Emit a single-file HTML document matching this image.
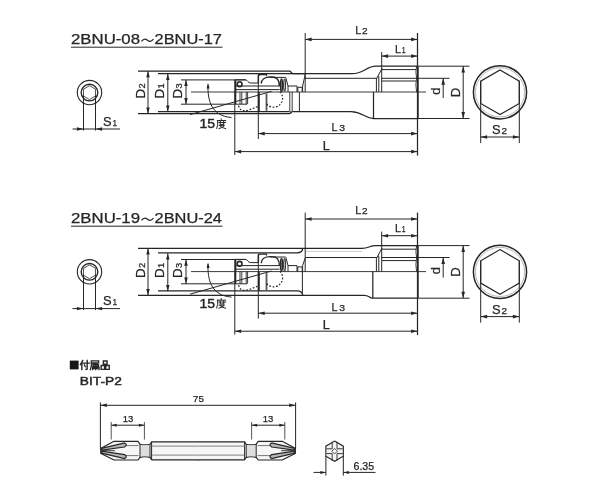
<!DOCTYPE html>
<html><head><meta charset="utf-8"><title>2BNU</title>
<style>
html,body{margin:0;padding:0;background:#fff;}
body{width:600px;height:500px;overflow:hidden;font-family:"Liberation Sans",sans-serif;}
svg{display:block;filter:grayscale(1);}
svg text{font-family:"Liberation Sans",sans-serif;fill:#262626;stroke:#262626;stroke-width:0.25px;}
</style></head><body>
<svg width="600" height="500" viewBox="0 0 600 500">
<rect width="600" height="500" fill="#ffffff"/>
<text x="71.00" y="44.40" font-size="14.2" text-anchor="start" font-weight="normal" textLength="69.00" lengthAdjust="spacingAndGlyphs" >2BNU-08</text>
<path d="M141.5,41.4 C144.0,37.99999999999999 146.0,38.99999999999999 147.5,40.199999999999996 C149.0,41.4 151.0,42.4 153.5,38.99999999999999" stroke="#262626" stroke-width="1.25" fill="none" />
<text x="154.50" y="44.40" font-size="14.2" text-anchor="start" font-weight="normal" textLength="67.50" lengthAdjust="spacingAndGlyphs" >2BNU-17</text>
<line x1="71.00" y1="47.20" x2="222.50" y2="47.20" stroke="#262626" stroke-width="1" />
<circle cx="89.5" cy="92.6" r="12.2" fill="none" stroke="#262626" stroke-width="1.1"/>
<circle cx="89.5" cy="92.6" r="8.3" fill="none" stroke="#262626" stroke-width="1.4"/>
<polygon points="89.50,85.70 95.48,89.15 95.48,96.05 89.50,99.50 83.52,96.05 83.52,89.15" fill="none" stroke="#262626" stroke-width="0.8"/>
<line x1="83.50" y1="95.60" x2="83.50" y2="130.50" stroke="#262626" stroke-width="1" />
<line x1="95.50" y1="95.60" x2="95.50" y2="130.50" stroke="#262626" stroke-width="1" />
<line x1="72.50" y1="129.00" x2="120.00" y2="129.00" stroke="#262626" stroke-width="1" />
<polygon points="83.50,129.00 76.90,127.30 76.90,130.70" fill="#262626"/>
<polygon points="95.50,129.00 102.10,127.30 102.10,130.70" fill="#262626"/>
<g transform="translate(103.00 125.60)"><text x="0" y="0" font-size="12.4" textLength="8.60" lengthAdjust="spacingAndGlyphs">S</text><text x="9.40" y="0" font-size="9.4" textLength="4.60" lengthAdjust="spacingAndGlyphs">1</text></g>
<path d="M138,71.0 L290,71.0 L292.6,73.7" stroke="#262626" stroke-width="1.25" fill="none" />
<path d="M138,113.7 L289,113.7 Q291.5,113.7 291.5,111.6" stroke="#262626" stroke-width="1.25" fill="none" />
<line x1="158.00" y1="73.70" x2="305.00" y2="73.70" stroke="#262626" stroke-width="1.25" />
<line x1="158.00" y1="111.60" x2="289.50" y2="111.60" stroke="#262626" stroke-width="1.25" />
<line x1="181.00" y1="79.90" x2="246.00" y2="79.90" stroke="#262626" stroke-width="1" />
<line x1="181.00" y1="104.20" x2="247.20" y2="104.20" stroke="#262626" stroke-width="1" />
<line x1="191.00" y1="92.00" x2="426.00" y2="92.00" stroke="#262626" stroke-width="0.9" />
<line x1="148.00" y1="71.00" x2="148.00" y2="113.70" stroke="#262626" stroke-width="1" />
<polygon points="148.00,71.00 146.25,77.20 149.75,77.20" fill="#262626"/>
<polygon points="148.00,113.70 146.25,107.50 149.75,107.50" fill="#262626"/>
<line x1="167.80" y1="73.70" x2="167.80" y2="111.60" stroke="#262626" stroke-width="1" />
<polygon points="167.80,73.70 166.05,79.90 169.55,79.90" fill="#262626"/>
<polygon points="167.80,111.60 166.05,105.40 169.55,105.40" fill="#262626"/>
<line x1="186.00" y1="79.90" x2="186.00" y2="104.20" stroke="#262626" stroke-width="1" />
<polygon points="186.00,79.90 184.25,86.10 187.75,86.10" fill="#262626"/>
<polygon points="186.00,104.20 184.25,98.00 187.75,98.00" fill="#262626"/>
<g transform="translate(144.60 98.50) rotate(-90)"><text x="0" y="0" font-size="12.6" textLength="9.60" lengthAdjust="spacingAndGlyphs">D</text><text x="10.00" y="0" font-size="9.6" textLength="5.20" lengthAdjust="spacingAndGlyphs">2</text></g>
<g transform="translate(164.40 98.50) rotate(-90)"><text x="0" y="0" font-size="12.6" textLength="9.60" lengthAdjust="spacingAndGlyphs">D</text><text x="10.00" y="0" font-size="9.6" textLength="5.20" lengthAdjust="spacingAndGlyphs">1</text></g>
<g transform="translate(182.20 98.50) rotate(-90)"><text x="0" y="0" font-size="12.6" textLength="9.60" lengthAdjust="spacingAndGlyphs">D</text><text x="10.00" y="0" font-size="9.6" textLength="5.20" lengthAdjust="spacingAndGlyphs">3</text></g>
<line x1="190.00" y1="114.60" x2="271.50" y2="91.40" stroke="#262626" stroke-width="1" />
<path d="M208,84.5 C207.5,100 211,116 231.5,117.5" stroke="#262626" stroke-width="1" fill="none" />
<polygon points="208,83.00 206.6,88.50 209.6,88.50" fill="#262626"/>
<text x="199.40" y="128.00" font-size="12.4" text-anchor="start" font-weight="normal" textLength="15.60" lengthAdjust="spacingAndGlyphs" style="stroke-width:0.4px">15</text>
<path d="M221.20,119.00 L221.20,120.25 M217.36,120.54 L225.62,120.54 M217.65,120.54 L217.65,124.76 L216.69,128.41 M218.90,122.46 L225.62,122.46 M220.24,121.30 L220.24,124.38 M223.70,121.30 L223.70,124.38 M220.24,124.38 L223.70,124.38 M219.28,125.62 L224.46,125.62 L222.16,127.45 L218.90,128.60 M220.43,126.30 L222.16,127.45 L225.62,128.60 " stroke="#262626" stroke-width="1.0" fill="none" stroke-linecap="square" stroke-linejoin="miter"/>
<line x1="234.80" y1="80.00" x2="234.80" y2="155.00" stroke="#262626" stroke-width="1" />
<line x1="258.30" y1="74.00" x2="258.30" y2="139.00" stroke="#262626" stroke-width="1" />
<circle cx="239.6" cy="84.2" r="2.4" fill="#fff" stroke="#262626" stroke-width="1.6"/>
<path d="M234.8,79.8 L245.5,79.8 C247.5,79.8 248,83 250.5,83 L258.5,83" stroke="#262626" stroke-width="1" fill="none" />
<path d="M258.4,83 L258.4,76.4 Q258.4,74.5 260.4,74.5 L266.2,74.5 L266.8,75.8" stroke="#262626" stroke-width="1.4" fill="none" />
<path d="M261.3,83.6 C261.3,79.5 265,77 270,77 L272,77 C277,77 279.4,80 279.4,86" stroke="#262626" stroke-width="1.4" fill="none" />
<line x1="270.00" y1="77.40" x2="285.60" y2="77.40" stroke="#262626" stroke-width="1" />
<line x1="235.00" y1="86.00" x2="279.60" y2="86.00" stroke="#262626" stroke-width="1" />
<line x1="235.00" y1="89.60" x2="279.60" y2="89.60" stroke="#262626" stroke-width="1" />
<ellipse cx="281.5" cy="85.2" rx="1.1" ry="6.4" fill="#777" stroke="#262626" stroke-width="1.3"/>
<ellipse cx="284.6" cy="85.2" rx="1.0" ry="6.4" fill="#ccc" stroke="#262626" stroke-width="1.0"/>
<line x1="285.80" y1="77.60" x2="288.00" y2="86.00" stroke="#262626" stroke-width="1" />
<path d="M288,92 L288,86 L297,86 L297,92" stroke="#262626" stroke-width="1" fill="none" />
<path d="M297.8,92 L297.8,87.3 L302.2,87.3 L302.2,92" stroke="#262626" stroke-width="1" fill="none" />
<path d="M235.2,92 L235.2,104 M247.6,92 L247.6,104 M246.2,92 L246.2,104 M240,92 L240,104 M241.8,92 L241.8,104" stroke="#262626" stroke-width="0.9" fill="none" />
<line x1="235.60" y1="80.00" x2="235.60" y2="104.00" stroke="#262626" stroke-width="1.4" />
<line x1="258.80" y1="92.00" x2="258.80" y2="111.00" stroke="#262626" stroke-width="2" />
<line x1="266.50" y1="93.50" x2="266.50" y2="110.80" stroke="#555" stroke-width="1.8" />
<path d="M279.96,91.84 A9,9 0 1 1 265.81,102.70" stroke="#262626" stroke-width="1.2" fill="none" stroke-dasharray="1.7 1.7"/>
<path d="M238.6,105.6 C240,112 246,111.5 252,108.8 L258,106.4" stroke="#262626" stroke-width="1.2" fill="none" stroke-dasharray="1.7 1.7"/>
<path d="M289.8,92 L289.8,111.4 Q291,113.4 292.2,111.4 L292.2,92" stroke="#262626" stroke-width="0.9" fill="none" />
<line x1="299.40" y1="92.00" x2="299.40" y2="111.40" stroke="#262626" stroke-width="1" />
<path d="M292.6,73.7 L352,73.7 C364,73.7 366,66.2 376,66.2 L417.5,66.2" stroke="#262626" stroke-width="1.25" fill="none" />
<path d="M292.2,111.5 L351,111.5 C363,111.5 364,118.5 373.5,118.5 L417.5,118.5" stroke="#262626" stroke-width="1.25" fill="none" />
<line x1="305.00" y1="78.30" x2="377.00" y2="78.30" stroke="#262626" stroke-width="1" />
<path d="M305.4,73.7 L302.6,86 L302.6,92" stroke="#262626" stroke-width="1" fill="none" />
<line x1="373.50" y1="92.00" x2="373.50" y2="118.50" stroke="#262626" stroke-width="1.25" />
<line x1="382.00" y1="69.60" x2="416.00" y2="69.60" stroke="#262626" stroke-width="1" />
<line x1="382.00" y1="81.00" x2="416.00" y2="81.00" stroke="#262626" stroke-width="1" />
<path d="M382,68.4 L376.4,79 L376.4,92 M378.8,76 L378.8,92" stroke="#262626" stroke-width="1" fill="none" />
<line x1="417.50" y1="33.00" x2="417.50" y2="155.50" stroke="#262626" stroke-width="1.25" />
<path d="M416.6,66.2 Q415.2,72 416.6,78 Q415.2,85 416.6,92" stroke="#262626" stroke-width="0.9" fill="none" />
<line x1="417.90" y1="66.20" x2="417.90" y2="118.50" stroke="#262626" stroke-width="1.6" />
<line x1="305.20" y1="33.00" x2="305.20" y2="92.00" stroke="#262626" stroke-width="1" />
<line x1="305.20" y1="39.40" x2="417.50" y2="39.40" stroke="#262626" stroke-width="1" />
<polygon points="305.20,39.40 311.60,37.60 311.60,41.20" fill="#262626"/>
<polygon points="417.50,39.40 411.10,37.60 411.10,41.20" fill="#262626"/>
<g transform="translate(355.30 34.00)"><text x="0" y="0" font-size="11.8" textLength="6.00" lengthAdjust="spacingAndGlyphs">L</text><text x="6.80" y="0" font-size="8.6" textLength="5.60" lengthAdjust="spacingAndGlyphs">2</text></g>
<line x1="381.70" y1="52.00" x2="381.70" y2="92.00" stroke="#262626" stroke-width="1" />
<line x1="381.70" y1="56.10" x2="417.50" y2="56.10" stroke="#262626" stroke-width="1" />
<polygon points="381.70,56.10 388.10,54.30 388.10,57.90" fill="#262626"/>
<polygon points="417.50,56.10 411.10,54.30 411.10,57.90" fill="#262626"/>
<g transform="translate(395.00 52.80)"><text x="0" y="0" font-size="11.8" textLength="6.00" lengthAdjust="spacingAndGlyphs">L</text><text x="6.80" y="0" font-size="8.6" textLength="3.80" lengthAdjust="spacingAndGlyphs">1</text></g>
<line x1="258.30" y1="133.60" x2="417.50" y2="133.60" stroke="#262626" stroke-width="1" />
<polygon points="258.30,133.60 264.70,131.80 264.70,135.40" fill="#262626"/>
<polygon points="417.50,133.60 411.10,131.80 411.10,135.40" fill="#262626"/>
<g transform="translate(331.50 131.20)"><text x="0" y="0" font-size="11.8" textLength="6.00" lengthAdjust="spacingAndGlyphs">L</text><text x="7.70" y="0" font-size="8.6" textLength="5.80" lengthAdjust="spacingAndGlyphs">3</text></g>
<line x1="234.80" y1="151.60" x2="417.50" y2="151.60" stroke="#262626" stroke-width="1" />
<polygon points="234.80,151.60 241.20,149.80 241.20,153.40" fill="#262626"/>
<polygon points="417.50,151.60 411.10,149.80 411.10,153.40" fill="#262626"/>
<text x="322.70" y="149.50" font-size="12" text-anchor="start" font-weight="normal" textLength="7.00" lengthAdjust="spacingAndGlyphs" >L</text>
<line x1="417.50" y1="66.20" x2="469.50" y2="66.20" stroke="#262626" stroke-width="1" />
<line x1="417.50" y1="118.50" x2="469.50" y2="118.50" stroke="#262626" stroke-width="1" />
<line x1="463.20" y1="66.20" x2="463.20" y2="118.50" stroke="#262626" stroke-width="1" />
<polygon points="463.20,66.20 461.40,72.60 465.00,72.60" fill="#262626"/>
<polygon points="463.20,118.50 461.40,112.10 465.00,112.10" fill="#262626"/>
<text x="460.40" y="97.20" font-size="12.5" text-anchor="start" font-weight="normal" textLength="9.50" lengthAdjust="spacingAndGlyphs" transform="rotate(-90 460.40 97.20)" >D</text>
<line x1="381.00" y1="78.30" x2="449.50" y2="78.30" stroke="#262626" stroke-width="1" />
<line x1="443.20" y1="78.30" x2="443.20" y2="98.00" stroke="#262626" stroke-width="1" />
<polygon points="443.20,78.30 441.40,84.70 445.00,84.70" fill="#262626"/>
<text x="439.80" y="94.70" font-size="12.5" text-anchor="start" font-weight="normal" textLength="7.20" lengthAdjust="spacingAndGlyphs" transform="rotate(-90 439.80 94.70)" >d</text>
<circle cx="500" cy="92.3" r="26.6" fill="none" stroke="#262626" stroke-width="1.5"/>
<circle cx="500" cy="92.3" r="24.6" fill="none" stroke="#999" stroke-width="0.7"/>
<polygon points="500.00,70.00 519.31,81.15 519.31,103.45 500.00,114.60 480.69,103.45 480.69,81.15" fill="none" stroke="#262626" stroke-width="1.2"/>
<line x1="480.70" y1="81.30" x2="480.70" y2="143.00" stroke="#262626" stroke-width="1" />
<line x1="519.30" y1="81.30" x2="519.30" y2="143.00" stroke="#262626" stroke-width="1" />
<line x1="480.70" y1="137.00" x2="519.30" y2="137.00" stroke="#262626" stroke-width="1" />
<polygon points="480.70,137.00 487.10,135.20 487.10,138.80" fill="#262626"/>
<polygon points="519.30,137.00 512.90,135.20 512.90,138.80" fill="#262626"/>
<g transform="translate(492.00 134.20)"><text x="0" y="0" font-size="12" textLength="8.60" lengthAdjust="spacingAndGlyphs">S</text><text x="9.60" y="0" font-size="9" textLength="5.60" lengthAdjust="spacingAndGlyphs">2</text></g>
<text x="71.00" y="223.40" font-size="14.2" text-anchor="start" font-weight="normal" textLength="69.00" lengthAdjust="spacingAndGlyphs" >2BNU-19</text>
<path d="M141.5,220.4 C144.0,217.00000000000003 146.0,218.00000000000003 147.5,219.20000000000002 C149.0,220.4 151.0,221.4 153.5,218.00000000000003" stroke="#262626" stroke-width="1.25" fill="none" />
<text x="154.50" y="223.40" font-size="14.2" text-anchor="start" font-weight="normal" textLength="67.50" lengthAdjust="spacingAndGlyphs" >2BNU-24</text>
<line x1="71.00" y1="226.20" x2="222.50" y2="226.20" stroke="#262626" stroke-width="1" />
<circle cx="89.5" cy="271.8" r="12.2" fill="none" stroke="#262626" stroke-width="1.1"/>
<circle cx="89.5" cy="271.8" r="8.3" fill="none" stroke="#262626" stroke-width="1.4"/>
<polygon points="89.50,264.90 95.48,268.35 95.48,275.25 89.50,278.70 83.52,275.25 83.52,268.35" fill="none" stroke="#262626" stroke-width="0.8"/>
<line x1="83.50" y1="274.80" x2="83.50" y2="310.10" stroke="#262626" stroke-width="1" />
<line x1="95.50" y1="274.80" x2="95.50" y2="310.10" stroke="#262626" stroke-width="1" />
<line x1="72.50" y1="308.60" x2="120.00" y2="308.60" stroke="#262626" stroke-width="1" />
<polygon points="83.50,308.60 76.90,306.90 76.90,310.30" fill="#262626"/>
<polygon points="95.50,308.60 102.10,306.90 102.10,310.30" fill="#262626"/>
<g transform="translate(103.00 305.20)"><text x="0" y="0" font-size="12.4" textLength="8.60" lengthAdjust="spacingAndGlyphs">S</text><text x="9.40" y="0" font-size="9.4" textLength="4.60" lengthAdjust="spacingAndGlyphs">1</text></g>
<path d="M158,252.8 L297,252.8 Q302.2,252.8 302.8,248.39999999999998" stroke="#262626" stroke-width="1.25" fill="none" />
<path d="M158,290.8 L297,290.8 Q302.2,290.8 302.8,295.3" stroke="#262626" stroke-width="1.25" fill="none" />
<line x1="181.00" y1="259.50" x2="246.00" y2="259.50" stroke="#262626" stroke-width="1" />
<line x1="181.00" y1="283.80" x2="247.20" y2="283.80" stroke="#262626" stroke-width="1" />
<line x1="191.00" y1="271.60" x2="426.00" y2="271.60" stroke="#262626" stroke-width="0.9" />
<line x1="148.00" y1="248.40" x2="148.00" y2="295.30" stroke="#262626" stroke-width="1" />
<polygon points="148.00,248.40 146.25,254.60 149.75,254.60" fill="#262626"/>
<polygon points="148.00,295.30 146.25,289.10 149.75,289.10" fill="#262626"/>
<line x1="167.80" y1="253.30" x2="167.80" y2="291.20" stroke="#262626" stroke-width="1" />
<polygon points="167.80,253.30 166.05,259.50 169.55,259.50" fill="#262626"/>
<polygon points="167.80,291.20 166.05,285.00 169.55,285.00" fill="#262626"/>
<line x1="186.00" y1="259.50" x2="186.00" y2="283.80" stroke="#262626" stroke-width="1" />
<polygon points="186.00,259.50 184.25,265.70 187.75,265.70" fill="#262626"/>
<polygon points="186.00,283.80 184.25,277.60 187.75,277.60" fill="#262626"/>
<g transform="translate(144.60 278.10) rotate(-90)"><text x="0" y="0" font-size="12.6" textLength="9.60" lengthAdjust="spacingAndGlyphs">D</text><text x="10.00" y="0" font-size="9.6" textLength="5.20" lengthAdjust="spacingAndGlyphs">2</text></g>
<g transform="translate(164.40 278.10) rotate(-90)"><text x="0" y="0" font-size="12.6" textLength="9.60" lengthAdjust="spacingAndGlyphs">D</text><text x="10.00" y="0" font-size="9.6" textLength="5.20" lengthAdjust="spacingAndGlyphs">1</text></g>
<g transform="translate(182.20 278.10) rotate(-90)"><text x="0" y="0" font-size="12.6" textLength="9.60" lengthAdjust="spacingAndGlyphs">D</text><text x="10.00" y="0" font-size="9.6" textLength="5.20" lengthAdjust="spacingAndGlyphs">3</text></g>
<line x1="190.00" y1="294.20" x2="271.50" y2="271.00" stroke="#262626" stroke-width="1" />
<path d="M208,264.1 C207.5,279.6 211,295.6 231.5,297.1" stroke="#262626" stroke-width="1" fill="none" />
<polygon points="208,262.60 206.6,268.10 209.6,268.10" fill="#262626"/>
<text x="199.40" y="307.60" font-size="12.4" text-anchor="start" font-weight="normal" textLength="15.60" lengthAdjust="spacingAndGlyphs" style="stroke-width:0.4px">15</text>
<path d="M221.20,298.60 L221.20,299.85 M217.36,300.14 L225.62,300.14 M217.65,300.14 L217.65,304.36 L216.69,308.01 M218.90,302.06 L225.62,302.06 M220.24,300.90 L220.24,303.98 M223.70,300.90 L223.70,303.98 M220.24,303.98 L223.70,303.98 M219.28,305.22 L224.46,305.22 L222.16,307.05 L218.90,308.20 M220.43,305.90 L222.16,307.05 L225.62,308.20 " stroke="#262626" stroke-width="1.0" fill="none" stroke-linecap="square" stroke-linejoin="miter"/>
<line x1="234.80" y1="259.60" x2="234.80" y2="334.60" stroke="#262626" stroke-width="1" />
<line x1="258.30" y1="253.60" x2="258.30" y2="318.60" stroke="#262626" stroke-width="1" />
<circle cx="239.6" cy="263.8" r="2.4" fill="#fff" stroke="#262626" stroke-width="1.6"/>
<path d="M234.8,259.4 L245.5,259.4 C247.5,259.4 248,262.6 250.5,262.6 L258.5,262.6" stroke="#262626" stroke-width="1" fill="none" />
<path d="M258.4,262.6 L258.4,256.0 Q258.4,254.1 260.4,254.1 L266.2,254.1 L266.8,255.39999999999998" stroke="#262626" stroke-width="1.4" fill="none" />
<path d="M261.3,263.2 C261.3,259.1 265,256.6 270,256.6 L272,256.6 C277,256.6 279.4,259.6 279.4,265.6" stroke="#262626" stroke-width="1.4" fill="none" />
<line x1="270.00" y1="257.00" x2="285.60" y2="257.00" stroke="#262626" stroke-width="1" />
<line x1="235.00" y1="265.60" x2="279.60" y2="265.60" stroke="#262626" stroke-width="1" />
<line x1="235.00" y1="269.20" x2="279.60" y2="269.20" stroke="#262626" stroke-width="1" />
<ellipse cx="281.5" cy="264.8" rx="1.1" ry="6.4" fill="#777" stroke="#262626" stroke-width="1.3"/>
<ellipse cx="284.6" cy="264.8" rx="1.0" ry="6.4" fill="#ccc" stroke="#262626" stroke-width="1.0"/>
<line x1="285.80" y1="257.20" x2="288.00" y2="265.60" stroke="#262626" stroke-width="1" />
<path d="M288,271.6 L288,265.6 L297,265.6 L297,271.6" stroke="#262626" stroke-width="1" fill="none" />
<path d="M297.8,271.6 L297.8,266.9 L302.2,266.9 L302.2,271.6" stroke="#262626" stroke-width="1" fill="none" />
<path d="M235.2,271.6 L235.2,283.6 M247.6,271.6 L247.6,283.6 M246.2,271.6 L246.2,283.6 M240,271.6 L240,283.6 M241.8,271.6 L241.8,283.6" stroke="#262626" stroke-width="0.9" fill="none" />
<line x1="235.60" y1="259.60" x2="235.60" y2="283.60" stroke="#262626" stroke-width="1.4" />
<line x1="258.80" y1="271.60" x2="258.80" y2="290.60" stroke="#262626" stroke-width="2" />
<line x1="266.50" y1="273.10" x2="266.50" y2="290.40" stroke="#555" stroke-width="1.8" />
<path d="M279.96,271.44 A9,9 0 1 1 265.81,282.30" stroke="#262626" stroke-width="1.2" fill="none" stroke-dasharray="1.7 1.7"/>
<path d="M238.6,285.2 C240,291.6 246,291.1 252,288.4 L258,286.0" stroke="#262626" stroke-width="1.2" fill="none" stroke-dasharray="1.7 1.7"/>
<path d="M138,248.39999999999998 L362,248.39999999999998 C369,248.39999999999998 369,245.6 376,245.6 L417.5,245.6" stroke="#262626" stroke-width="1.25" fill="none" />
<path d="M138,295.3 L364,295.3 C370,295.3 368,298.2 373.5,298.2 L417.5,298.2" stroke="#262626" stroke-width="1.25" fill="none" />
<line x1="302.40" y1="271.60" x2="302.40" y2="293.10" stroke="#262626" stroke-width="1" />
<line x1="305.40" y1="257.50" x2="377.00" y2="257.50" stroke="#262626" stroke-width="1" />
<line x1="305.40" y1="251.40" x2="362.00" y2="251.40" stroke="#bbb" stroke-width="0.8" />
<path d="M305.4,257.5 L302.6,265.6 L302.6,271.6" stroke="#262626" stroke-width="1" fill="none" />
<line x1="372.80" y1="271.60" x2="372.80" y2="298.20" stroke="#262626" stroke-width="1.25" />
<line x1="382.00" y1="249.20" x2="416.00" y2="249.20" stroke="#262626" stroke-width="1" />
<line x1="382.00" y1="260.60" x2="416.00" y2="260.60" stroke="#262626" stroke-width="1" />
<path d="M382,248.0 L376.4,258.6 L376.4,271.6 M378.8,255.6 L378.8,271.6" stroke="#262626" stroke-width="1" fill="none" />
<line x1="417.50" y1="212.60" x2="417.50" y2="335.10" stroke="#262626" stroke-width="1.25" />
<path d="M416.6,245.6 Q415.2,251.6 416.6,257.6 Q415.2,264.6 416.6,271.6" stroke="#262626" stroke-width="0.9" fill="none" />
<line x1="417.90" y1="245.60" x2="417.90" y2="298.20" stroke="#262626" stroke-width="1.6" />
<line x1="305.20" y1="212.60" x2="305.20" y2="271.60" stroke="#262626" stroke-width="1" />
<line x1="305.20" y1="219.00" x2="417.50" y2="219.00" stroke="#262626" stroke-width="1" />
<polygon points="305.20,219.00 311.60,217.20 311.60,220.80" fill="#262626"/>
<polygon points="417.50,219.00 411.10,217.20 411.10,220.80" fill="#262626"/>
<g transform="translate(355.30 213.60)"><text x="0" y="0" font-size="11.8" textLength="6.00" lengthAdjust="spacingAndGlyphs">L</text><text x="6.80" y="0" font-size="8.6" textLength="5.60" lengthAdjust="spacingAndGlyphs">2</text></g>
<line x1="381.70" y1="231.60" x2="381.70" y2="271.60" stroke="#262626" stroke-width="1" />
<line x1="381.70" y1="235.70" x2="417.50" y2="235.70" stroke="#262626" stroke-width="1" />
<polygon points="381.70,235.70 388.10,233.90 388.10,237.50" fill="#262626"/>
<polygon points="417.50,235.70 411.10,233.90 411.10,237.50" fill="#262626"/>
<g transform="translate(395.00 232.40)"><text x="0" y="0" font-size="11.8" textLength="6.00" lengthAdjust="spacingAndGlyphs">L</text><text x="6.80" y="0" font-size="8.6" textLength="3.80" lengthAdjust="spacingAndGlyphs">1</text></g>
<line x1="258.30" y1="313.20" x2="417.50" y2="313.20" stroke="#262626" stroke-width="1" />
<polygon points="258.30,313.20 264.70,311.40 264.70,315.00" fill="#262626"/>
<polygon points="417.50,313.20 411.10,311.40 411.10,315.00" fill="#262626"/>
<g transform="translate(331.50 310.80)"><text x="0" y="0" font-size="11.8" textLength="6.00" lengthAdjust="spacingAndGlyphs">L</text><text x="7.70" y="0" font-size="8.6" textLength="5.80" lengthAdjust="spacingAndGlyphs">3</text></g>
<line x1="234.80" y1="331.20" x2="417.50" y2="331.20" stroke="#262626" stroke-width="1" />
<polygon points="234.80,331.20 241.20,329.40 241.20,333.00" fill="#262626"/>
<polygon points="417.50,331.20 411.10,329.40 411.10,333.00" fill="#262626"/>
<text x="322.70" y="329.10" font-size="12" text-anchor="start" font-weight="normal" textLength="7.00" lengthAdjust="spacingAndGlyphs" >L</text>
<line x1="417.50" y1="245.60" x2="469.50" y2="245.60" stroke="#262626" stroke-width="1" />
<line x1="417.50" y1="298.20" x2="469.50" y2="298.20" stroke="#262626" stroke-width="1" />
<line x1="463.20" y1="245.60" x2="463.20" y2="298.20" stroke="#262626" stroke-width="1" />
<polygon points="463.20,245.60 461.40,252.00 465.00,252.00" fill="#262626"/>
<polygon points="463.20,298.20 461.40,291.80 465.00,291.80" fill="#262626"/>
<text x="460.40" y="276.80" font-size="12.5" text-anchor="start" font-weight="normal" textLength="9.50" lengthAdjust="spacingAndGlyphs" transform="rotate(-90 460.40 276.80)" >D</text>
<line x1="381.00" y1="257.50" x2="449.50" y2="257.50" stroke="#262626" stroke-width="1" />
<line x1="443.20" y1="257.50" x2="443.20" y2="277.60" stroke="#262626" stroke-width="1" />
<polygon points="443.20,257.50 441.40,263.90 445.00,263.90" fill="#262626"/>
<text x="439.80" y="274.30" font-size="12.5" text-anchor="start" font-weight="normal" textLength="7.20" lengthAdjust="spacingAndGlyphs" transform="rotate(-90 439.80 274.30)" >d</text>
<circle cx="500" cy="271.90000000000003" r="26.6" fill="none" stroke="#262626" stroke-width="1.5"/>
<circle cx="500" cy="271.90000000000003" r="24.6" fill="none" stroke="#999" stroke-width="0.7"/>
<polygon points="500.00,249.60 519.31,260.75 519.31,283.05 500.00,294.20 480.69,283.05 480.69,260.75" fill="none" stroke="#262626" stroke-width="1.2"/>
<line x1="480.70" y1="260.90" x2="480.70" y2="322.60" stroke="#262626" stroke-width="1" />
<line x1="519.30" y1="260.90" x2="519.30" y2="322.60" stroke="#262626" stroke-width="1" />
<line x1="480.70" y1="316.60" x2="519.30" y2="316.60" stroke="#262626" stroke-width="1" />
<polygon points="480.70,316.60 487.10,314.80 487.10,318.40" fill="#262626"/>
<polygon points="519.30,316.60 512.90,314.80 512.90,318.40" fill="#262626"/>
<g transform="translate(492.00 313.80)"><text x="0" y="0" font-size="12" textLength="8.60" lengthAdjust="spacingAndGlyphs">S</text><text x="9.60" y="0" font-size="9" textLength="5.60" lengthAdjust="spacingAndGlyphs">2</text></g>
<rect x="69.8" y="360.6" width="8.8" height="8.8" fill="#161616"/>
<path d="M82.76,360.40 L80.37,364.63 M81.84,363.16 L81.84,369.60 M83.31,363.16 L89.20,363.16 M87.18,360.40 L87.18,369.23 L85.89,369.42 M84.42,365.00 L85.34,366.66 " stroke="#262626" stroke-width="1.4" fill="none" stroke-linecap="square" stroke-linejoin="miter"/>
<path d="M91.30,360.95 L98.66,360.95 L98.66,362.79 L91.30,362.79 M91.30,360.95 L91.30,365.92 L90.38,369.60 M97.01,363.44 L92.96,363.99 M92.96,364.63 L98.48,364.63 L98.48,366.10 L92.96,366.10 L92.96,364.63 M95.72,363.90 L95.72,369.60 M92.59,367.21 L99.03,367.21 L99.03,369.60 M92.59,367.21 L92.59,369.60 M93.88,368.50 L97.56,368.50 " stroke="#262626" stroke-width="1.3" fill="none" stroke-linecap="square" stroke-linejoin="miter"/>
<path d="M103.36,360.95 L107.04,360.95 L107.04,364.08 L103.36,364.08 L103.36,360.95 M101.15,365.55 L104.65,365.55 L104.65,369.42 L101.15,369.42 L101.15,365.55 M105.75,365.55 L109.25,365.55 L109.25,369.42 L105.75,369.42 L105.75,365.55 " stroke="#262626" stroke-width="1.4" fill="none" stroke-linecap="square" stroke-linejoin="miter"/>
<text x="79.80" y="385.00" font-size="11.7" text-anchor="start" font-weight="normal" textLength="42.00" lengthAdjust="spacingAndGlyphs" style="stroke-width:0.45px">BIT-P2</text>
<line x1="100.40" y1="402.40" x2="100.40" y2="449.00" stroke="#262626" stroke-width="1" />
<line x1="295.60" y1="402.40" x2="295.60" y2="449.00" stroke="#262626" stroke-width="1" />
<line x1="100.40" y1="405.30" x2="295.60" y2="405.30" stroke="#262626" stroke-width="1" />
<polygon points="100.40,405.30 106.80,403.50 106.80,407.10" fill="#262626"/>
<polygon points="295.60,405.30 289.20,403.50 289.20,407.10" fill="#262626"/>
<text x="193.00" y="402.00" font-size="9.7" text-anchor="start" font-weight="normal" textLength="10.80" lengthAdjust="spacingAndGlyphs" >75</text>
<line x1="111.20" y1="422.00" x2="111.20" y2="439.50" stroke="#555" stroke-width="1" />
<line x1="144.40" y1="422.00" x2="144.40" y2="439.50" stroke="#555" stroke-width="1" />
<line x1="111.20" y1="425.20" x2="144.40" y2="425.20" stroke="#262626" stroke-width="1" />
<polygon points="111.20,425.20 116.70,423.70 116.70,426.70" fill="#262626"/>
<polygon points="144.40,425.20 138.90,423.70 138.90,426.70" fill="#262626"/>
<line x1="251.60" y1="422.00" x2="251.60" y2="439.50" stroke="#555" stroke-width="1" />
<line x1="284.80" y1="422.00" x2="284.80" y2="439.50" stroke="#555" stroke-width="1" />
<line x1="251.60" y1="425.20" x2="284.80" y2="425.20" stroke="#262626" stroke-width="1" />
<polygon points="251.60,425.20 257.10,423.70 257.10,426.70" fill="#262626"/>
<polygon points="284.80,425.20 279.30,423.70 279.30,426.70" fill="#262626"/>
<text x="122.80" y="422.30" font-size="9.6" text-anchor="start" font-weight="normal" textLength="10.60" lengthAdjust="spacingAndGlyphs" >13</text>
<text x="262.80" y="422.30" font-size="9.6" text-anchor="start" font-weight="normal" textLength="10.60" lengthAdjust="spacingAndGlyphs" >13</text>
<path d="M198.6,441.8 L151.6,441.8 L150,444.2 Q145,445.6 140,444.2 L138,441.3 L114,441.3 L101,448.2 L101,453.6 L114,460 L138,460 L140,457.4 Q145,456 150,457.4 L151.6,459.8 L198.6,459.8 Z" stroke="none" stroke-width="0" fill="#f6f6f6" />
<path d="M198.6,441.8 L151.6,441.8 L150,444.2 Q145,445.6 140,444.2 L138,441.3 L114,441.3 L101,448.2 L101,453.6 L114,460 L138,460 L140,457.4 Q145,456 150,457.4 L151.6,459.8 L198.6,459.8" stroke="#262626" stroke-width="1.15" fill="none" stroke-linejoin="round"/>
<rect x="140.40" y="445.4" width="9.2" height="11" fill="#dedede"/>
<line x1="140.00" y1="444.20" x2="140.00" y2="457.40" stroke="#262626" stroke-width="1" />
<line x1="150.00" y1="444.20" x2="150.00" y2="457.40" stroke="#262626" stroke-width="1" />
<line x1="151.60" y1="441.80" x2="151.60" y2="459.80" stroke="#262626" stroke-width="1" />
<line x1="126.00" y1="445.60" x2="138.60" y2="445.60" stroke="#777" stroke-width="1" />
<line x1="126.00" y1="455.60" x2="138.60" y2="455.60" stroke="#777" stroke-width="1" />
<line x1="152.00" y1="446.20" x2="198.50" y2="446.20" stroke="#999" stroke-width="1.2" />
<line x1="152.00" y1="455.20" x2="198.50" y2="455.20" stroke="#999" stroke-width="1.2" />
<path d="M101.6,448.4 L124.5,443 Q128,444.6 124.5,447 L102,450.2 Z" stroke="#262626" stroke-width="1.2" fill="#b5b5b5" />
<path d="M101.6,453.2 L124.5,458.6 Q128,457 124.5,454.6 L102,451.2 Z" stroke="#262626" stroke-width="1.2" fill="#b5b5b5" />
<line x1="101.50" y1="450.70" x2="115.00" y2="450.70" stroke="#262626" stroke-width="0.9" />
<line x1="101.00" y1="448.20" x2="101.00" y2="453.60" stroke="#262626" stroke-width="1.2" />
<path d="M197.6,441.8 L244.6,441.8 L246.2,444.2 Q251.2,445.6 256.2,444.2 L258.2,441.3 L282.2,441.3 L295.2,448.2 L295.2,453.6 L282.2,460 L258.2,460 L256.2,457.4 Q251.2,456 246.2,457.4 L244.6,459.8 L197.6,459.8 Z" stroke="none" stroke-width="0" fill="#f6f6f6" />
<path d="M197.6,441.8 L244.6,441.8 L246.2,444.2 Q251.2,445.6 256.2,444.2 L258.2,441.3 L282.2,441.3 L295.2,448.2 L295.2,453.6 L282.2,460 L258.2,460 L256.2,457.4 Q251.2,456 246.2,457.4 L244.6,459.8 L197.6,459.8" stroke="#262626" stroke-width="1.15" fill="none" stroke-linejoin="round"/>
<rect x="246.60" y="445.4" width="9.2" height="11" fill="#dedede"/>
<line x1="256.20" y1="444.20" x2="256.20" y2="457.40" stroke="#262626" stroke-width="1" />
<line x1="246.20" y1="444.20" x2="246.20" y2="457.40" stroke="#262626" stroke-width="1" />
<line x1="244.60" y1="441.80" x2="244.60" y2="459.80" stroke="#262626" stroke-width="1" />
<line x1="270.20" y1="445.60" x2="257.60" y2="445.60" stroke="#777" stroke-width="1" />
<line x1="270.20" y1="455.60" x2="257.60" y2="455.60" stroke="#777" stroke-width="1" />
<line x1="244.20" y1="446.20" x2="197.70" y2="446.20" stroke="#999" stroke-width="1.2" />
<line x1="244.20" y1="455.20" x2="197.70" y2="455.20" stroke="#999" stroke-width="1.2" />
<path d="M294.6,448.4 L271.7,443 Q268.2,444.6 271.7,447 L294.2,450.2 Z" stroke="#262626" stroke-width="1.2" fill="#b5b5b5" />
<path d="M294.6,453.2 L271.7,458.6 Q268.2,457 271.7,454.6 L294.2,451.2 Z" stroke="#262626" stroke-width="1.2" fill="#b5b5b5" />
<line x1="294.70" y1="450.70" x2="281.20" y2="450.70" stroke="#262626" stroke-width="0.9" />
<line x1="295.20" y1="448.20" x2="295.20" y2="453.60" stroke="#262626" stroke-width="1.2" />
<polygon points="334.60,441.10 343.35,446.15 343.35,456.25 334.60,461.30 325.85,456.25 325.85,446.15" fill="#f4f4f4" stroke="#262626" stroke-width="1.1"/>
<path d="M332.2,441.8 L332.2,448.8 L326.4,448.8 M337,441.8 L337,448.8 L342.8,448.8 M332.2,460.6 L332.2,453.6 L326.4,453.6 M337,460.6 L337,453.6 L342.8,453.6" stroke="#262626" stroke-width="0.9" fill="none" />
<path d="M334.6,448.4 L337.4,451.2 L334.6,454 L331.8,451.2 Z" stroke="#262626" stroke-width="0.8" fill="none" />
<line x1="325.90" y1="456.00" x2="325.90" y2="475.60" stroke="#262626" stroke-width="1" />
<line x1="343.30" y1="456.00" x2="343.30" y2="475.60" stroke="#262626" stroke-width="1" />
<line x1="313.50" y1="472.40" x2="325.90" y2="472.40" stroke="#262626" stroke-width="1" />
<line x1="343.30" y1="472.40" x2="375.50" y2="472.40" stroke="#262626" stroke-width="1" />
<polygon points="325.90,472.40 320.40,470.90 320.40,473.90" fill="#262626"/>
<polygon points="343.30,472.40 348.80,470.90 348.80,473.90" fill="#262626"/>
<text x="353.50" y="470.30" font-size="10" text-anchor="start" font-weight="normal" textLength="20.60" lengthAdjust="spacingAndGlyphs" >6.35</text>
</svg>
</body></html>
